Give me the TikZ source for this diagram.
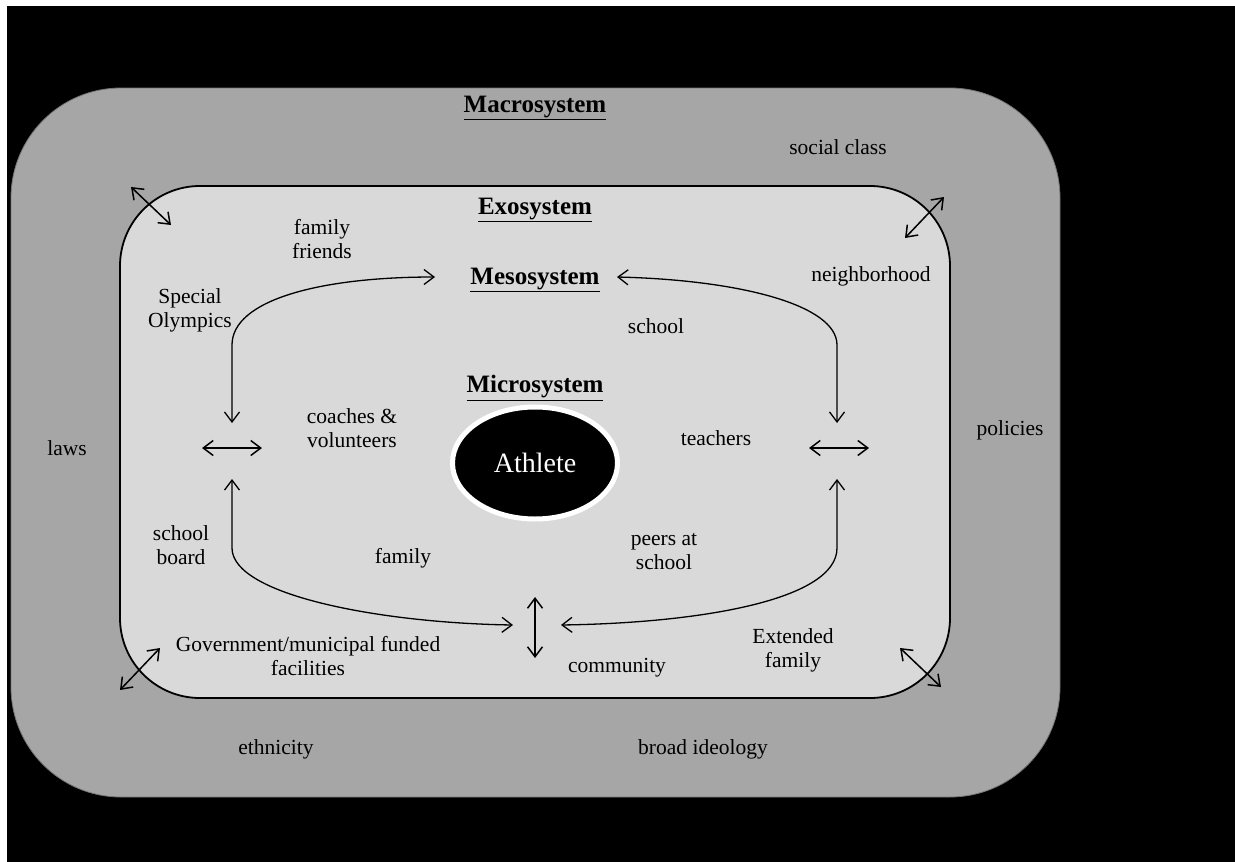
\documentclass[tikz,border=0pt]{standalone}
\usepackage{fontspec}
\setmainfont{Liberation Serif}
\usetikzlibrary{arrows.meta,shapes.geometric}
\definecolor{macrogray}{HTML}{A6A6A6}
\definecolor{exogray}{HTML}{D9D9D9}
\tikzset{
  lbl/.style={font=\fontsize{21.5}{24}\selectfont, align=center, text=black, inner sep=0pt},
  head/.style={font=\fontsize{25}{28}\selectfont\bfseries, inner sep=0pt},
  arr/.style={line width=1.5pt, {Straight Barb[length=10pt,width=15pt]}-{Straight Barb[length=10pt,width=15pt]}},
  curv/.style={line width=1.3pt, {Straight Barb[length=10pt,width=15pt]}-{Straight Barb[length=10pt,width=15pt]}}
}
\begin{document}
\begin{tikzpicture}[x=1pt,y=-1pt]
\useasboundingbox (0,0) rectangle (1235,862);
\fill[white] (0,0) rectangle (1235,862);
\fill[black] (7,6) rectangle (1235,862);
% macrosystem
\draw[fill=macrogray, draw=macrogray!70!black, line width=0.8pt, rounded corners=110pt] (11,88) rectangle (1060,797);
% exosystem
\draw[fill=exogray, draw=black, line width=1.8pt, rounded corners=80pt] (120,186) rectangle (950,698);
% athlete
\node[ellipse, fill=black, draw=white, line width=5pt, minimum width=165pt, minimum height=112pt, inner sep=0pt,
      font=\fontsize{28}{30}\selectfont, text=white] (athlete) at (535,463) {Athlete};
% headings
\node[head] (macro) at (535,108) {\underline{Macrosystem}};
\node[head] (exo) at (535,210) {\underline{Exosystem}};
\node[head] (meso) at (535,280) {\underline{Mesosystem}};
\node[head] (micro) at (535,388) {\underline{Microsystem}};
% labels
\node[lbl] (social) at (838,147) {social class};
\node[lbl] (ffriends) at (322,239) {family\\friends};
\node[lbl] (neigh) at (871,276) {neighborhood};
\node[lbl] (special) at (190,310) {Special\\Olympics};
\node[lbl] (school) at (656,326) {school};
\node[lbl] (coaches) at (352,428) {coaches \&\\volunteers};
\node[lbl] (teachers) at (716,438) {teachers};
\node[lbl] (policies) at (1010,430) {policies};
\node[lbl] (laws) at (67,448) {laws};
\node[lbl] (sboard) at (181,545) {school\\board};
\node[lbl] (family) at (403,558) {family};
\node[lbl] (peers) at (664,552) {peers at\\school};
\node[lbl] (gov) at (308,656) {Government/municipal funded\\facilities};
\node[lbl] (extfam) at (793,650) {Extended\\family};
\node[lbl] (community) at (617,668) {community};
\node[lbl] (ethnicity) at (276,749) {ethnicity};
\node[lbl] (ideology) at (703,749) {broad ideology};
% corner arrows
\coordinate (tl1) at (131,187); \coordinate (tl2) at (171,225);
\coordinate (tr1) at (905,238); \coordinate (tr2) at (944,197);
\coordinate (bl1) at (120,690); \coordinate (bl2) at (160,648);
\coordinate (br1) at (900,648); \coordinate (br2) at (941,687);
\draw[arr] (tl1) -- (tl2);
\draw[arr] (tr1) -- (tr2);
\draw[arr] (bl1) -- (bl2);
\draw[arr] (br1) -- (br2);
% side arrows
\coordinate (l1) at (202,448); \coordinate (l2) at (262,448);
\coordinate (r1) at (809,448); \coordinate (r2) at (869,448);
\coordinate (c1) at (535,597); \coordinate (c2) at (535,658);
\draw[arr] (l1) -- (l2);
\draw[arr] (r1) -- (r2);
\draw[arr] (c1) -- (c2);
% curved arrows
\coordinate (ctl) at (232,423); \coordinate (ctm) at (435,277);
\coordinate (ctr) at (837,423); \coordinate (ctm2) at (617,277);
\coordinate (cbl) at (232,479); \coordinate (cbm) at (513,625);
\coordinate (cbr) at (837,479); \coordinate (cbm2) at (561,625);
\draw[curv] (ctl) -- (232,345) .. controls (232,300) and (320,277) .. (ctm);
\draw[curv] (ctm2) .. controls (740,280) and (837,305) .. (837,345) -- (ctr);
\draw[curv] (cbl) -- (232,548) .. controls (232,595) and (380,623) .. (cbm);
\draw[curv] (cbr) -- (837,548) .. controls (837,600) and (700,623) .. (cbm2);
\end{tikzpicture}
\end{document}
